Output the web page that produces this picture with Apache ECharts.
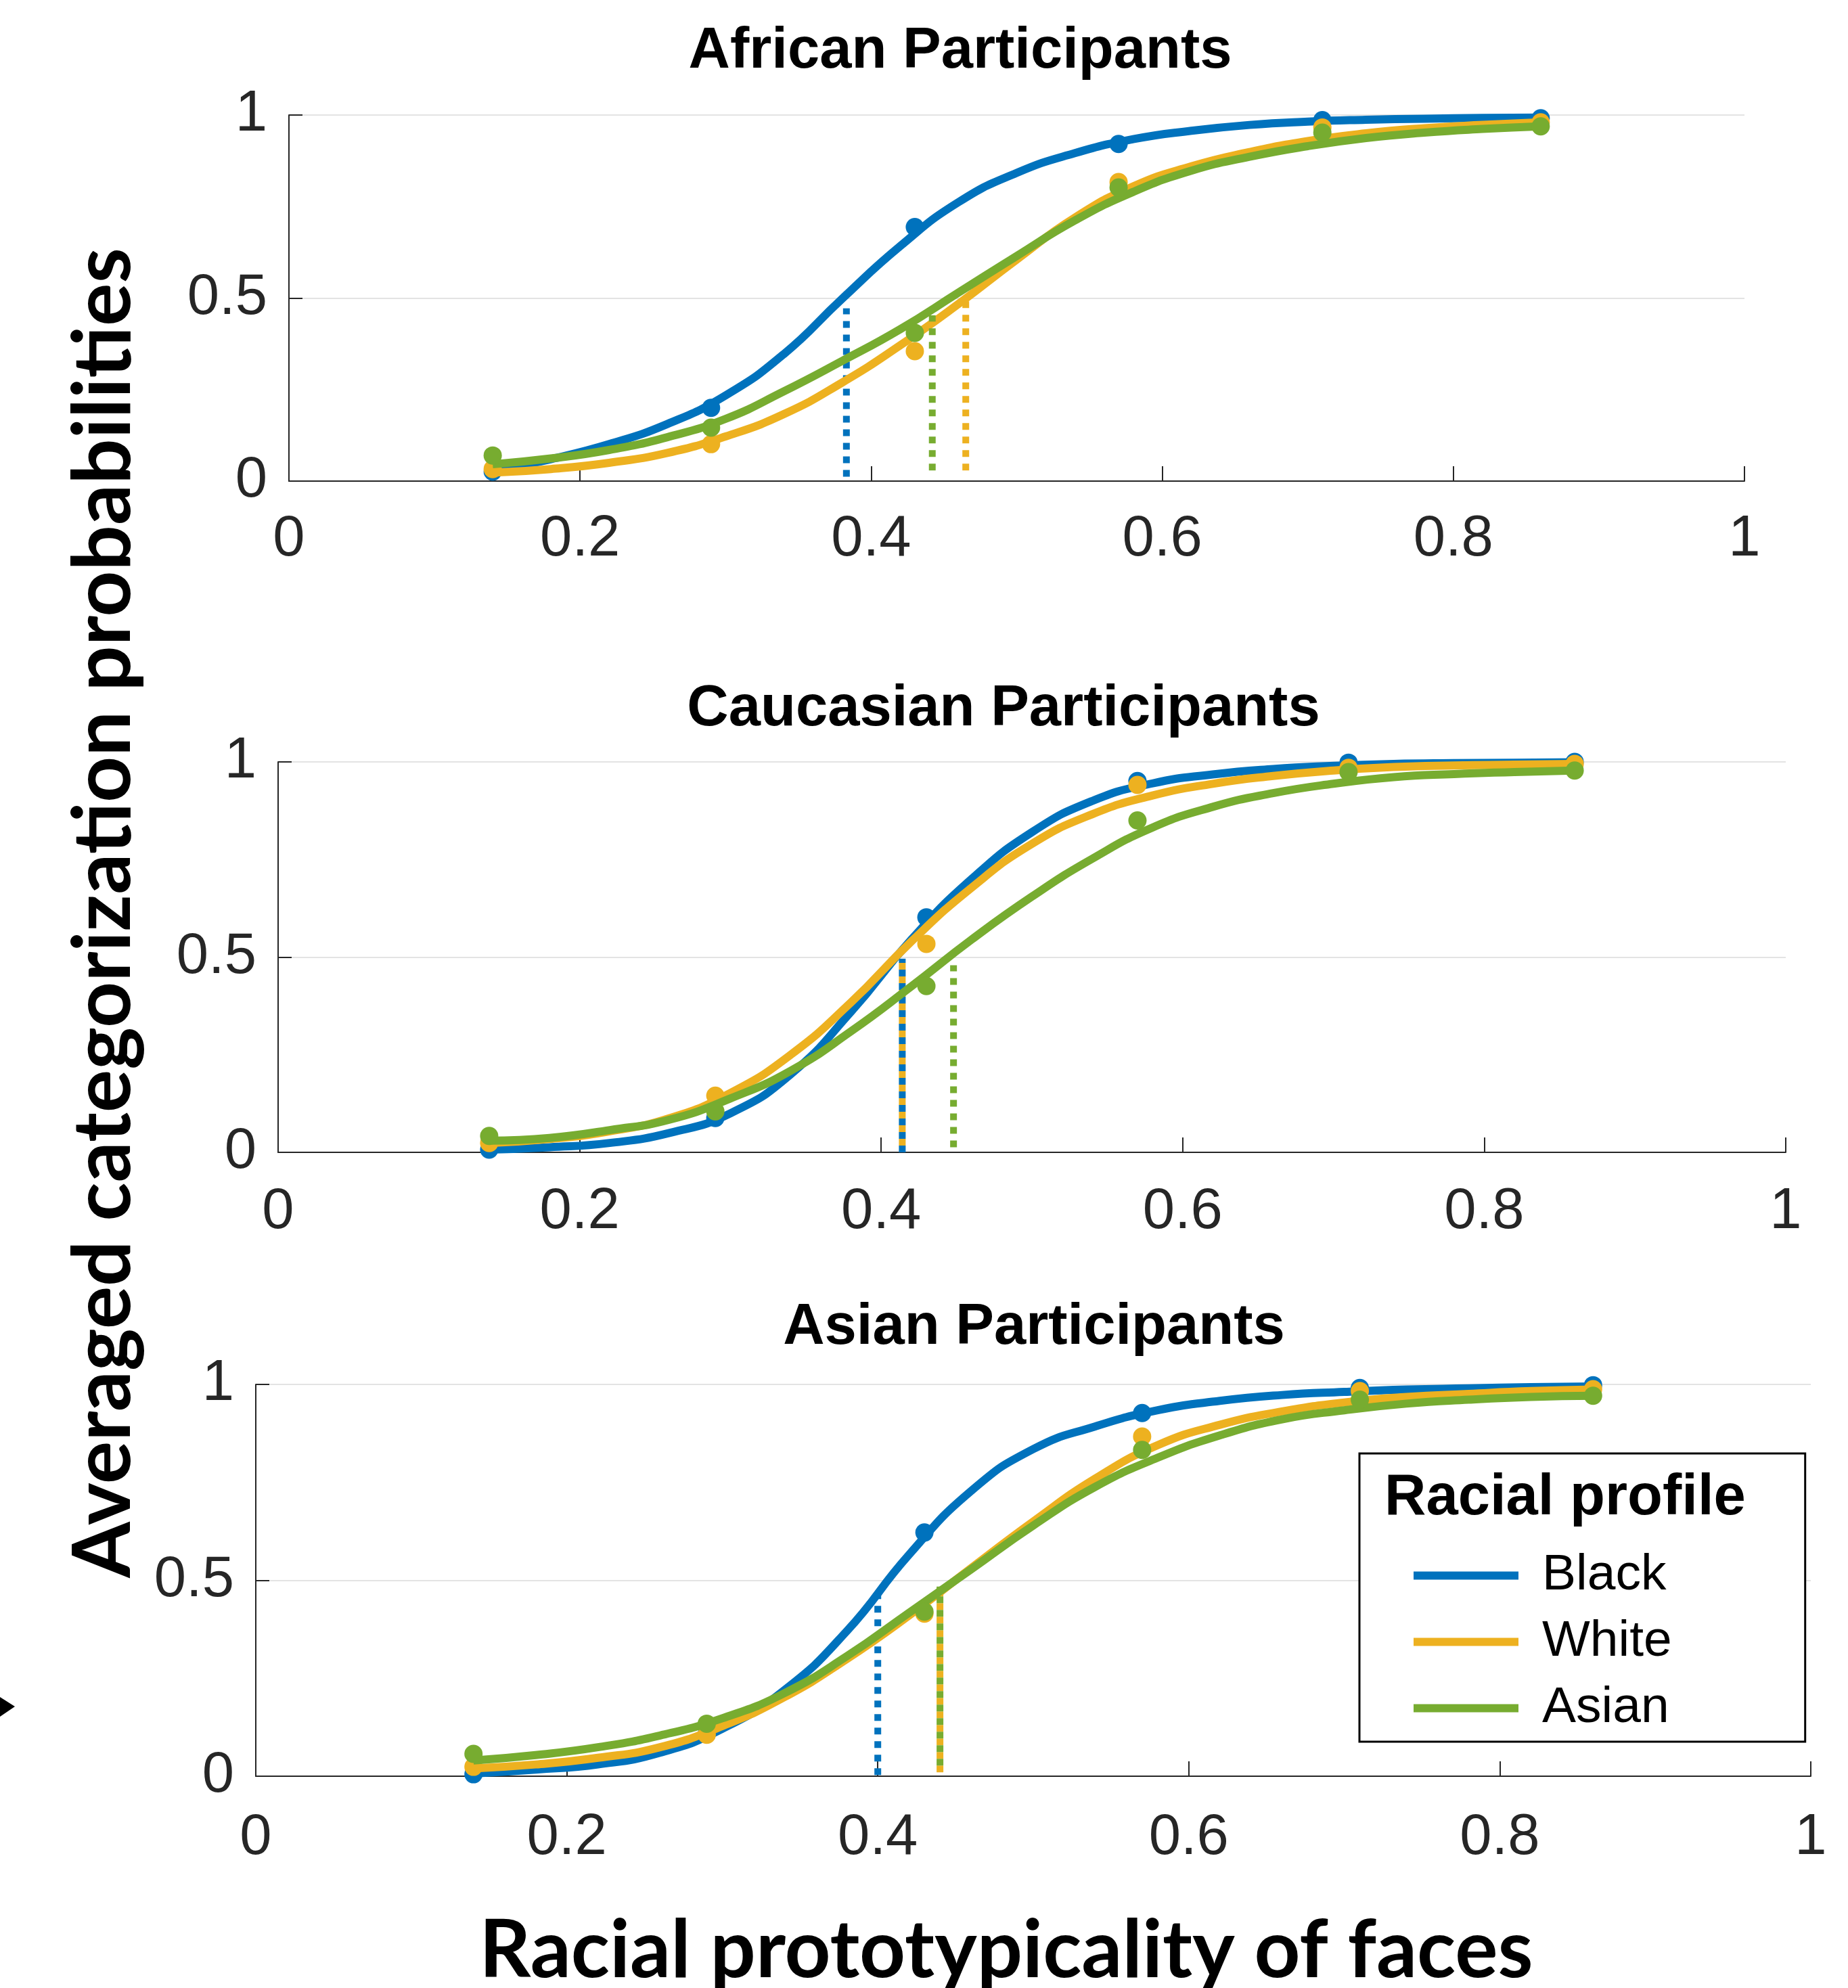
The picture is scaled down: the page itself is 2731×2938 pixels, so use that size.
<!DOCTYPE html>
<html><head><meta charset="utf-8">
<script src="https://cdn.jsdelivr.net/npm/echarts@6/dist/echarts.min.js"></script>
<style>html,body{margin:0;padding:0;background:#fff}#c{width:2731px;height:2938px}</style>
</head><body><div id="c"></div><script>
// ---------------- DATA ----------------
const groups = ['Black', 'White', 'Asian'];
const panelTitles = ['African Participants', 'Caucasian Participants', 'Asian Participants'];
const xAxisName = 'Racial prototypicality of faces';
const yAxisName = 'Averaged categorization probabilities';
const legendTitle = 'Racial profile';
const xPoints = [0.14, 0.29, 0.43, 0.57, 0.71, 0.86];
const xCurve = [0.14, 0.18, 0.22, 0.26, 0.30, 0.34, 0.38, 0.42, 0.46, 0.50, 0.54, 0.58, 0.62, 0.66, 0.70, 0.74, 0.78, 0.82, 0.86];

// African participants
const africanBlackPts = [0.026, 0.200, 0.694, 0.921, 0.986, 0.991];
const africanWhitePts = [0.033, 0.101, 0.355, 0.817, 0.966, 0.980];
const africanAsianPts = [0.070, 0.146, 0.405, 0.802, 0.952, 0.969];
const africanBlackFit = [0.027, 0.060, 0.101, 0.156, 0.234, 0.347, 0.498, 0.642, 0.762, 0.842, 0.896, 0.934, 0.957, 0.973, 0.982, 0.987, 0.990, 0.992, 0.993];
const africanWhiteFit = [0.023, 0.033, 0.050, 0.077, 0.122, 0.183, 0.269, 0.371, 0.484, 0.605, 0.720, 0.805, 0.860, 0.899, 0.929, 0.950, 0.964, 0.973, 0.980];
const africanAsianFit = [0.046, 0.062, 0.085, 0.120, 0.170, 0.245, 0.328, 0.415, 0.515, 0.615, 0.712, 0.790, 0.848, 0.886, 0.915, 0.937, 0.952, 0.962, 0.969];
const africanPSE = [0.383, 0.465, 0.442];
const africanPSETop = [0.472, 0.491, 0.453];
const africanPSEBottom = [0.012, 0.029, 0.029];

// Caucasian participants
const caucasianBlackPts = [0.007, 0.088, 0.602, 0.951, 0.998, 1.000];
const caucasianWhitePts = [0.024, 0.145, 0.534, 0.941, 0.985, 0.995];
const caucasianAsianPts = [0.042, 0.105, 0.426, 0.850, 0.974, 0.978];
const caucasianBlackFit = [0.007, 0.013, 0.024, 0.050, 0.100, 0.200, 0.360, 0.545, 0.700, 0.820, 0.900, 0.945, 0.968, 0.982, 0.990, 0.995, 0.997, 0.998, 0.999];
const caucasianWhiteFit = [0.024, 0.034, 0.054, 0.088, 0.152, 0.250, 0.384, 0.540, 0.678, 0.790, 0.866, 0.914, 0.944, 0.964, 0.978, 0.987, 0.991, 0.993, 0.995];
const caucasianAsianFit = [0.030, 0.037, 0.057, 0.084, 0.138, 0.209, 0.310, 0.425, 0.545, 0.655, 0.752, 0.832, 0.885, 0.920, 0.944, 0.961, 0.969, 0.974, 0.978];
const caucasianPSE = [0.414, 0.414, 0.448];
const caucasianPSETop = [0.496, 0.496, 0.479];
const caucasianPSEBottom = [0.0, 0.0, 0.013];

// Asian participants
const asianBlackPts = [0.005, 0.108, 0.622, 0.927, 0.991, 0.998];
const asianWhitePts = [0.024, 0.106, 0.415, 0.867, 0.983, 0.988];
const asianAsianPts = [0.057, 0.134, 0.420, 0.833, 0.961, 0.971];
const asianBlackFit = [0.007, 0.017, 0.030, 0.060, 0.121, 0.220, 0.370, 0.565, 0.728, 0.835, 0.893, 0.934, 0.958, 0.973, 0.981, 0.987, 0.990, 0.993, 0.995];
const asianWhiteFit = [0.020, 0.030, 0.047, 0.074, 0.128, 0.202, 0.299, 0.410, 0.531, 0.650, 0.760, 0.845, 0.897, 0.931, 0.954, 0.968, 0.976, 0.983, 0.987];
const asianAsianFit = [0.040, 0.054, 0.074, 0.104, 0.148, 0.212, 0.306, 0.417, 0.528, 0.640, 0.739, 0.813, 0.870, 0.911, 0.934, 0.951, 0.961, 0.968, 0.971];
const asianPSE = [0.400, 0.440, 0.440];
const asianPSETop = [0.467, 0.484, 0.484];
const asianPSEBottom = [0.003, 0.010, 0.010];

// ---------------- STYLE / LAYOUT ----------------
const colors = { Black: '#0072BD', White: '#EDB120', Asian: '#77AC30' };
const axisColor = '#262626';
const grids = [
  { left: 427, top: 170, width: 2151, height: 541 },
  { left: 411, top: 1126, width: 2228, height: 577 },
  { left: 378, top: 2046, width: 2298, height: 579 }
];
const xLabelMargin = [44, 46, 49];
const titlePos = [[1419, 77], [1483, 1049], [1528, 1963]];

const panels = [
  { pts: [africanBlackPts, africanWhitePts, africanAsianPts], fit: [africanBlackFit, africanWhiteFit, africanAsianFit], pse: africanPSE, top: africanPSETop, bot: africanPSEBottom },
  { pts: [caucasianBlackPts, caucasianWhitePts, caucasianAsianPts], fit: [caucasianBlackFit, caucasianWhiteFit, caucasianAsianFit], pse: caucasianPSE, top: caucasianPSETop, bot: caucasianPSEBottom },
  { pts: [asianBlackPts, asianWhitePts, asianAsianPts], fit: [asianBlackFit, asianWhiteFit, asianAsianFit], pse: asianPSE, top: asianPSETop, bot: asianPSEBottom }
];

function fitSize(text, weight, family, target) {
  const ctx = document.createElement('canvas').getContext('2d');
  ctx.font = weight + ' 100px ' + family;
  return 100 * target / ctx.measureText(text).width;
}

const xAxes = [], yAxes = [], series = [];
grids.forEach((g, p) => {
  xAxes.push({
    gridIndex: p, type: 'value', min: 0, max: 1, interval: 0.2,
    axisLine: { show: true, onZero: false, lineStyle: { color: axisColor, width: 2 } },
    axisTick: { show: true, inside: true, length: 22, lineStyle: { color: axisColor, width: 2 } },
    axisLabel: { fontSize: 85, fontFamily: 'Liberation Sans', color: axisColor, margin: xLabelMargin[p] },
    splitLine: { show: false }
  });
  yAxes.push({
    gridIndex: p, type: 'value', min: 0, max: 1, interval: 0.5,
    axisLine: { show: true, onZero: false, lineStyle: { color: axisColor, width: 2 } },
    axisTick: { show: true, inside: true, length: 20, lineStyle: { color: axisColor, width: 2 } },
    axisLabel: { fontSize: 85, fontFamily: 'Liberation Sans', color: axisColor, margin: 32 },
    splitLine: { show: true, lineStyle: { color: '#e3e3e3', width: 2 } }
  });
  const P = panels[p];
  groups.forEach((name, k) => {
    const c = colors[name];
    series.push({
      name: name, type: 'line', xAxisIndex: p, yAxisIndex: p,
      data: xCurve.map((x, i) => [x, P.fit[k][i]]),
      smooth: 0.5, showSymbol: false, symbol: 'none',
      lineStyle: { color: c, width: 12, join: 'round' }, itemStyle: { color: c },
      z: 2 + k, silent: true, animation: false
    });
    series.push({
      name: name, type: 'scatter', xAxisIndex: p, yAxisIndex: p,
      data: xPoints.map((x, i) => [x, P.pts[k][i]]),
      symbol: 'circle', symbolSize: 27, itemStyle: { color: c, opacity: 1 },
      clip: false, z: 2 + k, silent: true, animation: false
    });
    // offset dashes when this threshold coincides with an earlier one
    let offset = 0;
    for (let j = 0; j < k; j++) if (P.pse[j] === P.pse[k]) offset = 10;
    series.push({
      name: name + ' threshold', type: 'line', xAxisIndex: p, yAxisIndex: p,
      data: [[P.pse[k], P.bot[k]], [P.pse[k], P.top[k]]],
      showSymbol: false, symbol: 'none',
      lineStyle: { color: c, width: 10, type: [10, 10], dashOffset: offset, cap: 'butt' },
      z: 2 + k, silent: true, animation: false
    });
  });
});

const titleFont = 'Liberation Sans';
const nameFont = 'Lato';
const xNameSize = fitSize(xAxisName, 'bold', nameFont, 1558);
const yNameSize = fitSize(yAxisName, 'bold', nameFont, 1966);

const graphic = [];
panelTitles.forEach((t, p) => {
  graphic.push({ type: 'text', x: titlePos[p][0], y: titlePos[p][1], silent: true,
    style: { text: t, font: 'bold 85px "' + titleFont + '"', fill: '#000', align: 'center', verticalAlign: 'middle' } });
});
graphic.push({ type: 'text', x: 1487, y: 2884, silent: true,
  style: { text: xAxisName, font: 'bold ' + xNameSize.toFixed(1) + 'px ' + nameFont, fill: '#000', align: 'center', verticalAlign: 'middle' } });
graphic.push({ type: 'text', x: 154, y: 1349, rotation: Math.PI / 2, silent: true,
  style: { text: yAxisName, font: 'bold ' + yNameSize.toFixed(1) + 'px ' + nameFont, fill: '#000', align: 'center', verticalAlign: 'middle' } });
graphic.push({ type: 'text', x: 2046, y: 2215, z: 100, silent: true,
  style: { text: legendTitle, font: 'bold 85px "' + titleFont + '"', fill: '#000', align: 'left', verticalAlign: 'middle' } });
graphic.push({ type: 'polygon', silent: true, shape: { points: [[0, 2508], [22, 2522], [0, 2537]] }, style: { fill: '#000' } });

const chart = echarts.init(document.getElementById('c'), null, { renderer: 'canvas' });
chart.setOption({
  backgroundColor: '#fff',
  animation: false,
  grid: grids.map(g => Object.assign({ containLabel: false }, g)),
  xAxis: xAxes,
  yAxis: yAxes,
  legend: {
    orient: 'vertical', left: 2009, top: 2148,
    padding: [143, 197, 12, 80], itemWidth: 155, itemHeight: 12, itemGap: 23,
    borderColor: '#000', borderWidth: 3, backgroundColor: '#fff', z: 50,
    icon: 'rect', selectedMode: false,
    data: groups.map(n => ({ name: n, icon: 'rect', itemStyle: { color: colors[n] } })),
    textStyle: { fontSize: 75, fontFamily: 'Liberation Sans', color: '#000', padding: [0, 0, 0, 30] }
  },
  series: series,
  graphic: graphic
});
</script></body></html>
